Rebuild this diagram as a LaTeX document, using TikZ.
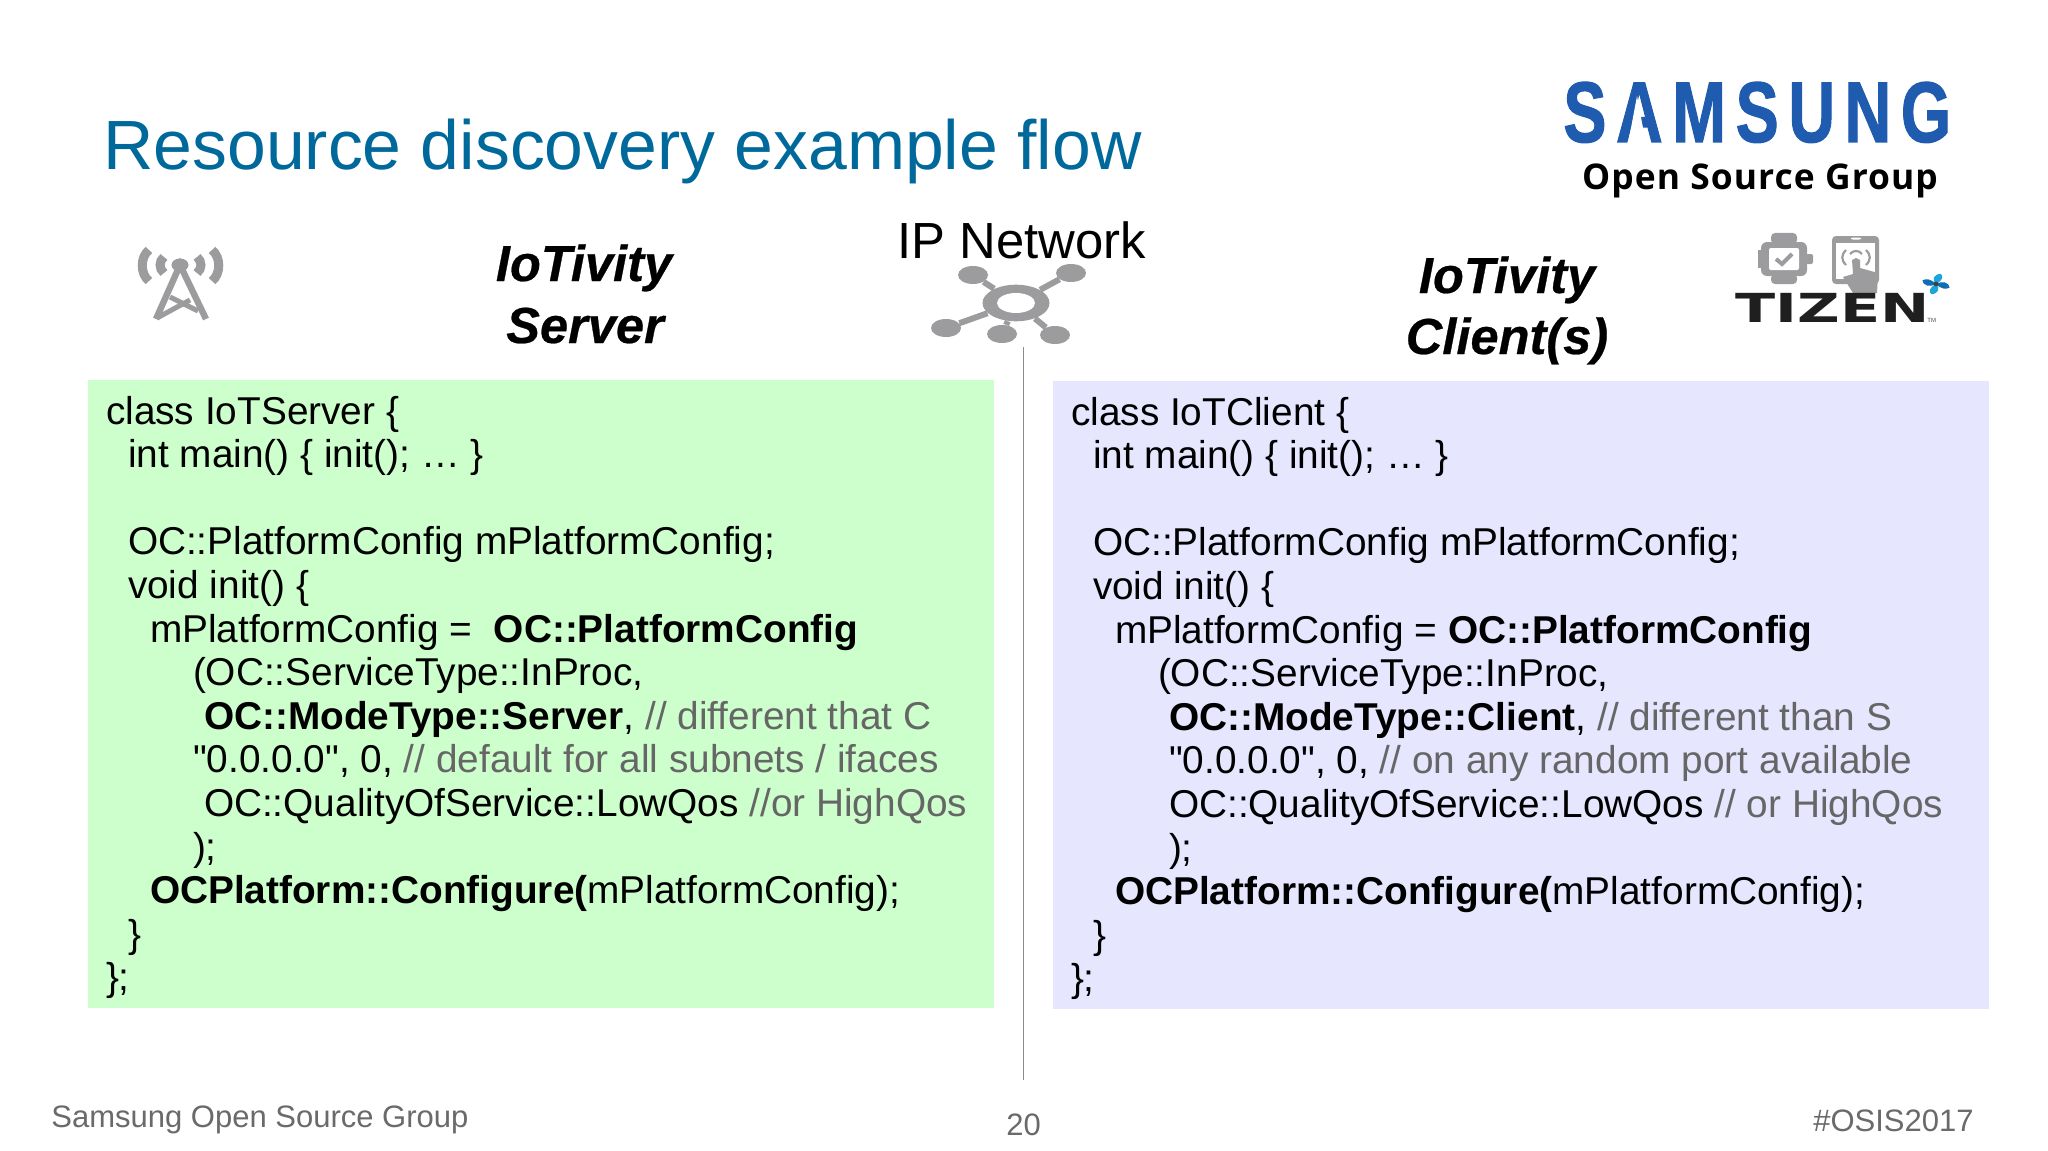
\documentclass[tikz,border=0pt]{standalone}
\usepackage{fontspec}
\setmainfont{Liberation Sans}[Ligatures=TeXOff]
\newfontfamily\logofont{Liberation Sans}[LetterSpace=15,BoldFeatures={FakeBold=1.5}]
\newfontfamily\osgfont{Open Sans}[LetterSpace=3]
\newfontfamily\tizfont{DejaVu Sans}
\newfontfamily\headfont{Liberation Sans}[BoldItalicFeatures={FakeBold=0.5}]
\usetikzlibrary{shapes.geometric}
\definecolor{titleblue}{HTML}{00699B}
\definecolor{samblue}{HTML}{1F5BAE}
\definecolor{icongray}{HTML}{9C9B9D}
\definecolor{codegreen}{HTML}{CCFFCC}
\definecolor{codeblue}{HTML}{E6E6FF}
\definecolor{cmtgray}{HTML}{666666}
\definecolor{footgray}{HTML}{6A6A6A}
\definecolor{swirlA}{HTML}{1DA5DC}
\definecolor{swirlB}{HTML}{0E6DB5}
\newcommand{\cmt}[1]{\textcolor{cmtgray}{#1}}
\tikzset{
  x=0.5pt,y=-0.5pt,
  code/.style={anchor=base west,inner sep=0pt,outer sep=0pt,font=\fontsize{19.4}{22}\selectfont,text=black},
  head/.style={anchor=base,inner sep=0pt,font=\fontsize{25.3}{28}\selectfont\headfont\bfseries\itshape,text=black},
  foot/.style={inner sep=0pt,text=footgray,font=\fontsize{15.5}{19}\selectfont},
  sat/.style={ellipse,fill=icongray,inner sep=0pt,minimum width=15pt,minimum height=9pt},
  spoke/.style={draw=icongray,line width=3pt},
  wave/.style={draw=icongray,line width=#1},
}
\begin{document}
\begin{tikzpicture}
\useasboundingbox (0,0) rectangle (2048,1150);
\fill[white] (0,0) rectangle (2048,1150);
% title
\node[anchor=base west,inner sep=0pt,text=titleblue,font=\fontsize{34.85}{38}\selectfont] (title) at (103,170) {Resource discovery example flow};
% samsung logo
\node[anchor=base west,inner sep=0pt,text=samblue,font=\fontsize{43}{46}\selectfont\bfseries\logofont] (sam) at (1563,142) {\scalebox{0.75}[1]{SAMSUNG}};
\fill[white] (1637,96) -- (1646,144) -- (1628,144) -- cycle;
\node[anchor=base,inner sep=0pt,text=black,font=\fontsize{17.7}{20}\selectfont\bfseries\osgfont] (osg) at (1760,190) {Open Source Group};
% panels
\fill[codegreen] (88,380) rectangle (994,1008);
\fill[codeblue] (1053,381) rectangle (1989,1009);
% divider
\coordinate (divtop) at (1023.5,347);
\coordinate (divbot) at (1023.5,1080);
\draw[draw=black!45,line width=0.5pt] (divtop) -- (divbot);
% headings
\node[head] (h1a) at (584,281) {IoTivity};
\node[head] (h1b) at (585,343) {Server};
\node[head] (h2a) at (1507,293) {IoTivity};
\node[head] (h2b) at (1507,354) {Client(s)};
\node[anchor=base,inner sep=0pt,font=\fontsize{25.4}{28}\selectfont] (ipn) at (1022,258) {IP Network};
% left code
\node[code] (l1) at (106,424) {class IoTServer \{};
\node[code] (l2) at (128,467.6) {int main() \{ init(); … \}};
\node[code] (l4) at (128,554.8) {OC::PlatformConfig mPlatformConfig;};
\node[code] (l5) at (128,598.4) {void init() \{};
\node[code] (l6) at (150,642) {mPlatformConfig =\ \ \textbf{OC::PlatformConfig}};
\node[code] (l7) at (193,685.6) {(OC::ServiceType::InProc,};
\node[code] (l8) at (204,729.2) {\textbf{OC::ModeType::Server}, \cmt{// different that C}};
\node[code] (l9) at (193,772.8) {"0.0.0.0", 0, \cmt{// default for all subnets / ifaces}};
\node[code] (l10) at (204,816.4) {OC::QualityOfService::LowQos \cmt{//or HighQos}};
\node[code] (l11) at (193,860) {);};
\node[code] (l12) at (150,903.6) {\textbf{OCPlatform::Configure(}mPlatformConfig);};
\node[code] (l13) at (128,947.2) {\}};
\node[code] (l14) at (106,990.8) {\};};
% right code
\node[code] (r1) at (1071,425) {class IoTClient \{};
\node[code] (r2) at (1093,468.6) {int main() \{ init(); … \}};
\node[code] (r4) at (1093,555.8) {OC::PlatformConfig mPlatformConfig;};
\node[code] (r5) at (1093,599.4) {void init() \{};
\node[code] (r6) at (1115,643) {mPlatformConfig = \textbf{OC::PlatformConfig}};
\node[code] (r7) at (1158,686.6) {(OC::ServiceType::InProc,};
\node[code] (r8) at (1169,730.2) {\textbf{OC::ModeType::Client}, \cmt{// different than S}};
\node[code] (r9) at (1169,773.8) {"0.0.0.0", 0, \cmt{// on any random port available}};
\node[code] (r10) at (1169,817.4) {OC::QualityOfService::LowQos \cmt{// or HighQos}};
\node[code] (r11) at (1169,861) {);};
\node[code] (r12) at (1115,904.6) {\textbf{OCPlatform::Configure(}mPlatformConfig);};
\node[code] (r13) at (1093,948.2) {\}};
\node[code] (r14) at (1071,991.8) {\};};
% footer
\node[foot,anchor=base west] (fl) at (51,1127) {Samsung Open Source Group};
\node[foot,anchor=base] (fc) at (1023.5,1135) {20};
\node[foot,anchor=base east] (fr) at (1974,1131) {\#OSIS2017};
% tower icon
\node[ellipse,fill=icongray,inner sep=0pt,minimum width=8.5pt,minimum height=6.5pt] (twrh) at (180,265) {};
\coordinate (tfl) at (156,319);
\coordinate (tfr) at (206,319);
\draw[icongray,line width=3.2pt] (tfl) -- (twrh.center) -- (tfr);
\draw[icongray,line width=2.5pt] (157,318) -- (190,300);
\draw[icongray,line width=2.5pt] (170,297) -- (198,311);
\draw[wave=4.5pt] (149,250) .. controls (140,257) and (140,274) .. (149,281);
\draw[wave=4.5pt] (164,257) .. controls (158.7,261) and (158.7,269) .. (164,273);
\draw[wave=4.5pt] (212,250) .. controls (221,257) and (221,274) .. (212,281);
\draw[wave=4.5pt] (197,257) .. controls (202.3,261) and (202.3,269) .. (197,273);
% network icon
\node[ellipse,fill=icongray,minimum width=33.5pt,minimum height=18.3pt,inner sep=0pt] (hub) at (1016,303) {};
\node[ellipse,fill=white,minimum width=19pt,minimum height=10pt,inner sep=0pt] (hubin) at (1016,303) {};
\node[sat] (s1) at (973,275) {};
\node[sat] (s2) at (1071,273) {};
\node[sat] (s3) at (946,328) {};
\node[sat] (s4) at (1002,334) {};
\node[sat] (s5) at (1055,335) {};
\draw[spoke] (s1) -- (hub);
\draw[spoke] (s2) -- (hub);
\draw[spoke] (s3) -- (hub);
\draw[spoke] (s4) -- (hub);
\draw[spoke] (s5) -- (hub);
% watch icon
\fill[icongray,rounded corners=2pt] (1771,233) rectangle (1797,244);
\fill[icongray,rounded corners=2pt] (1771,274) rectangle (1797,284);
\fill[icongray,rounded corners=3pt] (1761,242) rectangle (1807,276);
\fill[icongray] (1758,250) rectangle (1762,268);
\fill[icongray,rounded corners=1pt] (1806,254) rectangle (1813,264);
\fill[white,rounded corners=1pt] (1769,248) rectangle (1799,270);
\draw[icongray,line width=2pt] (1776,259) -- (1782,264) -- (1792,254);
% tablet icon
\fill[icongray,rounded corners=2pt] (1832,236) rectangle (1879,284);
\fill[white] (1836,243) rectangle (1875,279);
\fill[white,rounded corners=1pt] (1851,237.5) rectangle (1861,239.5);
\draw[icongray,line width=1.1pt] (1846,250) .. controls (1841,255) and (1841,260) .. (1846,265);
\draw[icongray,line width=1.1pt] (1866,250) .. controls (1871,255) and (1871,260) .. (1866,265);
\draw[icongray,line width=1.1pt] (1850,254) .. controls (1853,250) and (1859,250) .. (1862,254);
\fill[icongray] (1852,260) -- (1856,258) -- (1860,260) -- (1860,268) -- (1878,273) -- (1877,293) -- (1853,293) -- (1843,277) -- (1853,274) -- cycle;
% tizen
\node[anchor=base west,inner sep=0pt,text=black!88,font=\fontsize{20}{22}\selectfont\bfseries\tizfont] (tiz) at (1735,322) {\scalebox{1.47}[1]{TIZEN}};
\node[anchor=base west,inner sep=0pt,text=black!70,font=\fontsize{3}{3}\selectfont] (tm) at (1927,322) {TM};
% tizen swirl
\coordinate (sw) at (1936,284);
\foreach \a/\c in {0/swirlA,90/swirlB,180/swirlA,270/swirlB}{
  \fill[\c,shift={(sw)},yscale=0.75,rotate=\a+15] (0,0) .. controls (-3,-7) and (1,-13) .. (8,-12) .. controls (10,-8) and (8,-3) .. (0,0);
}
\fill[black!75] (sw) circle (1.2pt);
\end{tikzpicture}
\end{document}
